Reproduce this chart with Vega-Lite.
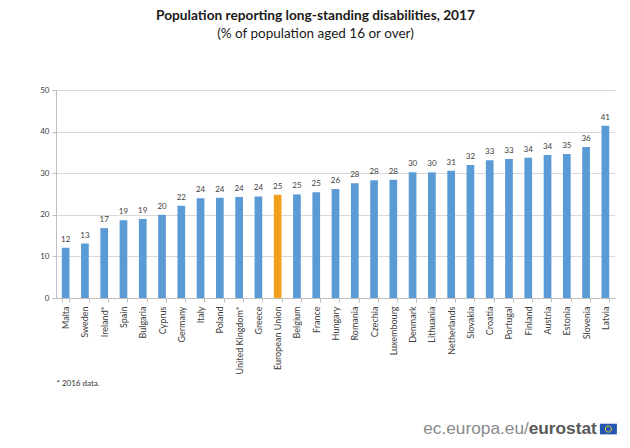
{
  "$schema": "https://vega.github.io/schema/vega-lite/v6.json",
  "autosize": {"type": "none"},
  "width": 559,
  "height": 208,
  "padding": {"left": 56, "top": 90, "right": 15, "bottom": 150},
  "background": "white",
  "config": {
    "view": {"stroke": null},
    "font": "Lato",
    "title": {"font": "Lato", "subtitleFont": "Lato"}
  },
  "title": {
    "text": "Population reporting long-standing disabilities, 2017",
    "subtitle": "(% of population aged 16 or over)",
    "anchor": "middle",
    "frame": "group",
    "dx": -20,
    "fontSize": 13.7,
    "fontWeight": "bold",
    "color": "#1a1a1a",
    "subtitleFontSize": 13.5,
    "subtitleColor": "#1a1a1a",
    "subtitlePadding": 4,
    "offset": 46
  },
  "data": {
    "values": [
      {"country": "Malta", "value": 12.1},
      {"country": "Sweden", "value": 13.1},
      {"country": "Ireland*", "value": 16.8},
      {"country": "Spain", "value": 18.7},
      {"country": "Bulgaria", "value": 19.0},
      {"country": "Cyprus", "value": 20.0},
      {"country": "Germany", "value": 22.2},
      {"country": "Italy", "value": 24.0},
      {"country": "Poland", "value": 24.1},
      {"country": "United Kingdom*", "value": 24.3},
      {"country": "Greece", "value": 24.4},
      {"country": "European Union", "value": 24.8},
      {"country": "Belgium", "value": 24.9},
      {"country": "France", "value": 25.4},
      {"country": "Hungary", "value": 26.2},
      {"country": "Romania", "value": 27.6},
      {"country": "Czechia", "value": 28.3},
      {"country": "Luxembourg", "value": 28.4},
      {"country": "Denmark", "value": 30.2},
      {"country": "Lithuania", "value": 30.2},
      {"country": "Netherlands", "value": 30.6},
      {"country": "Slovakia", "value": 32.0},
      {"country": "Croatia", "value": 33.1},
      {"country": "Portugal", "value": 33.4},
      {"country": "Finland", "value": 33.7},
      {"country": "Austria", "value": 34.4},
      {"country": "Estonia", "value": 34.6},
      {"country": "Slovenia", "value": 36.3},
      {"country": "Latvia", "value": 41.4}
    ]
  },
  "layer": [
    {
      "mark": {"type": "bar"},
      "encoding": {
        "x": {
          "field": "country",
          "type": "nominal",
          "sort": null,
          "scale": {"paddingInner": 0.6, "paddingOuter": 0.3},
          "axis": {
            "title": "* 2016 data.",
            "titleAnchor": "start",
            "titleAlign": "left",
            "titleFontSize": 8,
            "titleFontWeight": "normal",
            "titleColor": "#333333",
            "titlePadding": 6,
            "labelAngle": -90,
            "labelFontSize": 9,
            "labelColor": "#404040",
            "labelPadding": 4,
            "domainColor": "#bfbfbf",
            "tickColor": "#bfbfbf",
            "tickSize": 4,
            "tickBand": "extent",
            "grid": false
          }
        },
        "y": {
          "field": "value",
          "type": "quantitative",
          "scale": {"domain": [0, 50]},
          "axis": {
            "title": null,
            "values": [0, 10, 20, 30, 40, 50],
            "labelFontSize": 8,
            "labelColor": "#404040",
            "labelPadding": 3,
            "domainColor": "#bfbfbf",
            "tickColor": "#bfbfbf",
            "tickSize": 4,
            "gridColor": "#d9d9d9"
          }
        },
        "color": {
          "condition": {"test": "datum.country === 'European Union'", "value": "#F4A01C"},
          "value": "#5B9BD5"
        }
      }
    },
    {
      "mark": {"type": "text", "dy": -4, "fontSize": 8, "color": "#404040", "baseline": "bottom"},
      "encoding": {
        "x": {"field": "country", "type": "nominal", "sort": null},
        "y": {"field": "value", "type": "quantitative"},
        "text": {"field": "value", "type": "quantitative", "format": ".0f"}
      }
    },
    {
      "data": {"values": [{"t": "ec.europa.eu/", "c": "Latvia", "v": -31.5}]},
      "mark": {"type": "text", "font": "Liberation Sans", "fontSize": 17.3, "color": "#8a8a8a", "align": "right", "baseline": "middle", "dx": -76.5},
      "encoding": {
        "x": {"field": "c", "type": "nominal", "sort": null},
        "y": {"field": "v", "type": "quantitative"},
        "text": {"field": "t"}
      }
    },
    {
      "data": {"values": [{"t": "eurostat", "c": "Latvia", "v": -31.5}]},
      "mark": {"type": "text", "font": "Liberation Sans", "fontSize": 17.3, "fontWeight": "bold", "color": "#595959", "align": "right", "baseline": "middle", "dx": -8.5},
      "encoding": {
        "x": {"field": "c", "type": "nominal", "sort": null},
        "y": {"field": "v", "type": "quantitative"},
        "text": {"field": "t"}
      }
    },
    {
      "data": {"values": [{"t": "flag", "c": "Latvia", "v": -31.5}]},
      "mark": {"type": "point", "filled": true, "size": 113, "opacity": 1, "color": "#2457b0", "shape": "M -1.03 -1 L 2.17 -1 L 2.17 1 L -1.03 1 Z"},
      "encoding": {
        "x": {"field": "c", "type": "nominal", "sort": null},
        "y": {"field": "v", "type": "quantitative"}
      }
    },
    {
      "data": {"values": [{"t": "stars", "c": "Latvia", "v": -31.5}]},
      "mark": {"type": "point", "filled": false, "size": 113, "opacity": 1, "stroke": "#f2d23a", "strokeWidth": 1, "shape": "M 1.14 0 A 0.57 0.57 0 1 0 0 0 A 0.57 0.57 0 1 0 1.14 0 Z"},
      "encoding": {
        "x": {"field": "c", "type": "nominal", "sort": null},
        "y": {"field": "v", "type": "quantitative"}
      }
    }
  ]
}
